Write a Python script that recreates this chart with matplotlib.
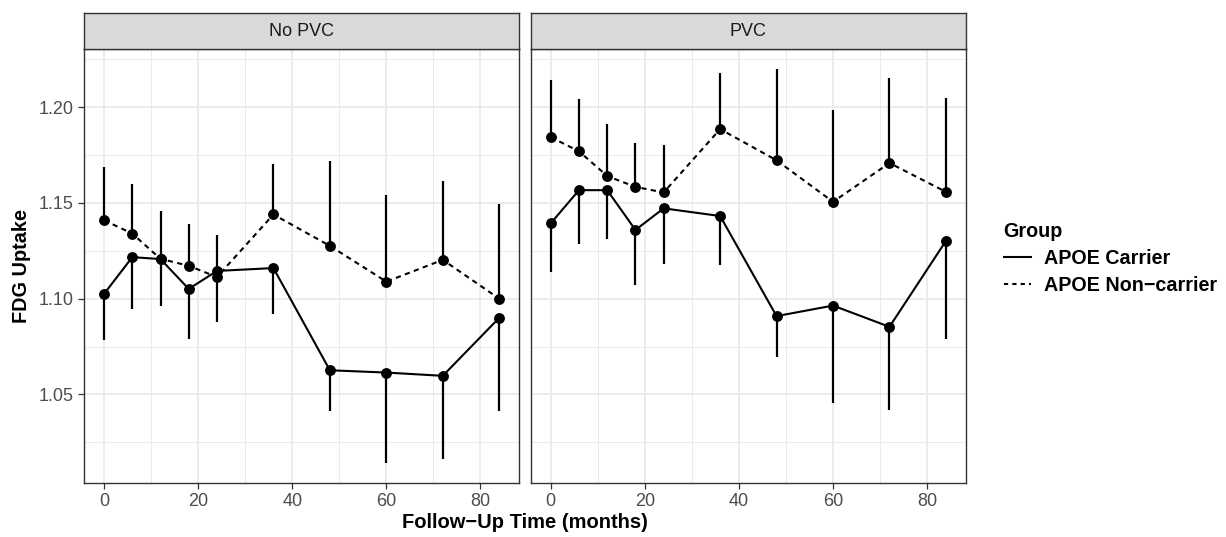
import matplotlib
matplotlib.use("Agg")
import matplotlib.pyplot as plt
from matplotlib.lines import Line2D
import numpy as np

plt.rcParams['font.family'] = ['Liberation Sans', 'DejaVu Sans']

months = [0, 6, 12, 18, 24, 36, 48, 60, 72, 84]
panels = ['No PVC', 'PVC']

# APOE Carrier: mean and lower end of error bar
carrier_mean = {
    'No PVC': [1.1025, 1.1217, 1.1207, 1.1051, 1.1145, 1.1160, 1.0626, 1.0614, 1.0597, 1.0900],
    'PVC':    [1.1394, 1.1567, 1.1567, 1.1359, 1.1472, 1.1432, 1.0909, 1.0964, 1.0853, 1.1302],
}
carrier_low = {
    'No PVC': [1.0784, 1.0947, 1.0960, 1.0787, 1.0877, 1.0921, 1.0415, 1.0141, 1.0164, 1.0415],
    'PVC':    [1.1142, 1.1285, 1.1314, 1.1070, 1.1182, 1.1177, 1.0697, 1.0455, 1.0417, 1.0787],
}
# APOE Non-carrier: mean and upper end of error bar
noncarrier_mean = {
    'No PVC': [1.1410, 1.1340, 1.1208, 1.1172, 1.1113, 1.1440, 1.1276, 1.1089, 1.1203, 1.1000],
    'PVC':    [1.1844, 1.1770, 1.1641, 1.1584, 1.1555, 1.1886, 1.1723, 1.1506, 1.1709, 1.1558],
}
noncarrier_high = {
    'No PVC': [1.1690, 1.1597, 1.1458, 1.1389, 1.1332, 1.1706, 1.1718, 1.1541, 1.1614, 1.1494],
    'PVC':    [1.2144, 1.2042, 1.1912, 1.1813, 1.1805, 1.2177, 1.2200, 1.1986, 1.2151, 1.2050],
}

W, H = 1226, 537
fig = plt.figure(figsize=(W / 100, H / 100), dpi=100)

grid_col = '#EBEBEB'
lefts = [84.3, 531.0]
pw = 434.7
ptop, pbot = 49.3, 483.0
strip_top = 13.3

for i, name in enumerate(panels):
    ax = fig.add_axes([lefts[i] / W, 1 - pbot / H, pw / W, (pbot - ptop) / H])
    ax.set_xlim(-4.2, 88.2)
    ax.set_ylim(1.0037, 1.2303)
    ax.set_xticks([0, 20, 40, 60, 80])
    ax.set_xticks([10, 30, 50, 70], minor=True)
    ax.set_yticks([1.05, 1.10, 1.15, 1.20])
    ax.set_yticks([1.025, 1.075, 1.125, 1.175, 1.225], minor=True)
    ax.grid(True, which='major', color=grid_col, lw=1.3)
    ax.grid(True, which='minor', color=grid_col, lw=0.7)
    ax.set_axisbelow(True)
    for s in ax.spines.values():
        s.set_color('#333333')
        s.set_linewidth(1.0)
    ax.tick_params(which='minor', length=0)
    ax.tick_params(which='major', length=4.5, width=0.9, color='#333333',
                   labelsize=13, labelcolor='#4D4D4D', pad=3)
    ax.set_yticklabels(['1.05', '1.10', '1.15', '1.20'])
    if i == 1:
        ax.tick_params(axis='y', which='both', left=False, labelleft=False)

    ax.vlines(months, noncarrier_mean[name], noncarrier_high[name], color='black', lw=1.6, zorder=3)
    ax.vlines(months, carrier_low[name], carrier_mean[name], color='black', lw=1.6, zorder=3)
    ax.plot(months, carrier_mean[name], color='black', lw=1.5, ls='-',
            marker='o', ms=6.8, zorder=4)
    ax.plot(months, noncarrier_mean[name], color='black', lw=1.5, ls=(0, (2.5, 2.1)),
            marker='o', ms=6.8, zorder=4)

    sax = fig.add_axes([lefts[i] / W, 1 - ptop / H, pw / W, (ptop - strip_top) / H])
    sax.set_facecolor('#D9D9D9')
    sax.set_xticks([])
    sax.set_yticks([])
    for s in sax.spines.values():
        s.set_color('#333333')
        s.set_linewidth(1.0)
    sax.text(0.5, 0.5, name, ha='center', va='center', fontsize=13, color='#1A1A1A',
             transform=sax.transAxes)

fig.text(22 / W, 1 - 266 / H, 'FDG Uptake', rotation=90, ha='center', va='center',
         fontsize=14.3, fontweight='bold')
fig.text(525 / W, 1 - 523 / H, 'Follow\u2212Up Time (months)', ha='center', va='center',
         fontsize=14.5, fontweight='bold')

handles = [
    Line2D([], [], color='black', lw=1.5, ls='-'),
    Line2D([], [], color='black', lw=1.5, ls=(0, (2.0, 2.0))),
]
leg = fig.legend(handles, ['APOE Carrier', 'APOE Non\u2212carrier'], title='Group',
                 loc='upper left', bbox_to_anchor=(986 / W, 1 - 204 / H),
                 frameon=False, handlelength=1.36, handletextpad=0.7,
                 labelspacing=0.42, prop={'size': 14.2, 'weight': 'bold'},
                 title_fontproperties={'size': 14.2, 'weight': 'bold'})
leg._legend_box.align = 'left'

fig.savefig('out.png', dpi=100)
